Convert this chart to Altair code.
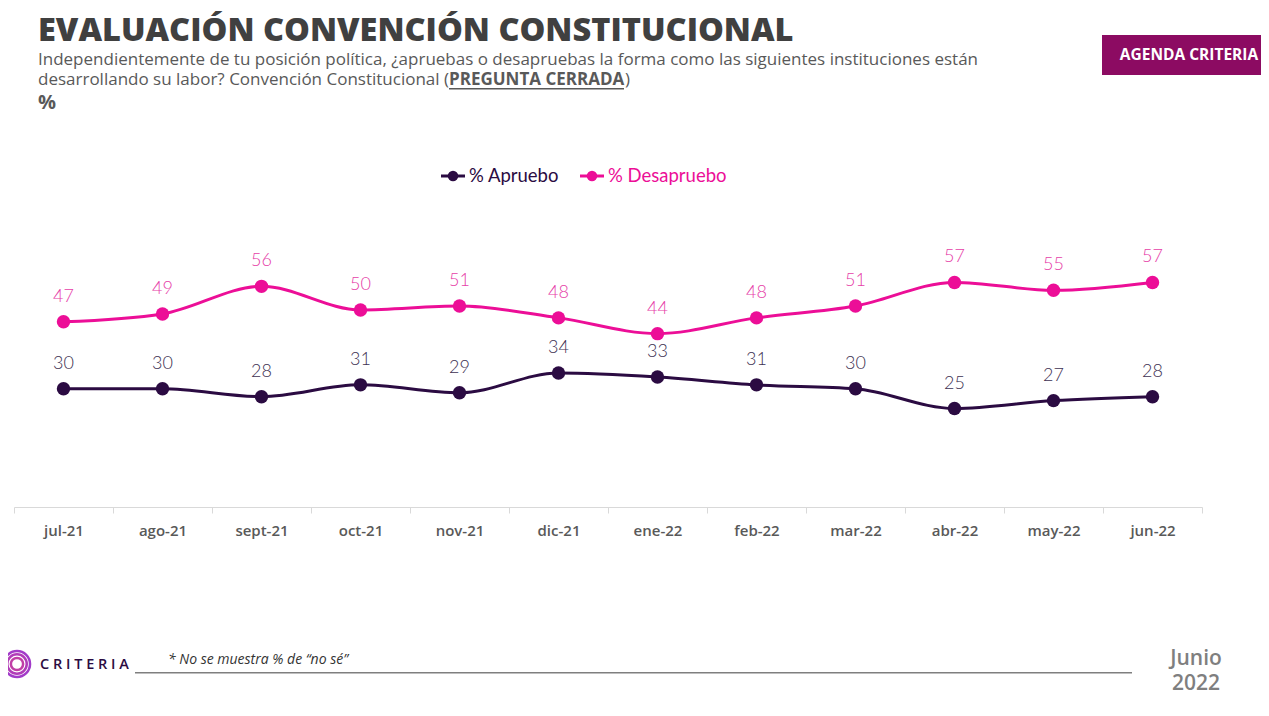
import pandas as pd
import altair as alt

months = ["jul-21", "ago-21", "sept-21", "oct-21", "nov-21", "dic-21",
          "ene-22", "feb-22", "mar-22", "abr-22", "may-22", "jun-22"]
apruebo = [30, 30, 28, 31, 29, 34, 33, 31, 30, 25, 27, 28]
desapruebo = [47, 49, 56, 50, 51, 48, 44, 48, 51, 57, 55, 57]
series = ["% Apruebo", "% Desapruebo"]
line_colors = ["#2B0B42", "#EC0E97"]
label_colors = ["#3E3152", "#E640A8"]

df = pd.concat([
    pd.DataFrame({"mes": months, "valor": apruebo, "serie": series[0]}),
    pd.DataFrame({"mes": months, "valor": desapruebo, "serie": series[1]}),
], ignore_index=True)

x = alt.X("mes:N", sort=months, title=None,
          scale=alt.Scale(paddingInner=0, paddingOuter=0),
          axis=alt.Axis(labelAngle=0, tickBand="extent", domainColor="#D9D9D9",
                        tickColor="#D9D9D9", tickSize=6, labelPadding=10,
                        labelFont="Open Sans", labelFontSize=15,
                        labelFontWeight=600, labelColor="#595959", grid=False))
y = alt.Y("valor:Q", scale=alt.Scale(domain=[0, 100]), axis=None)
color = alt.Color("serie:N", scale=alt.Scale(domain=series, range=line_colors),
                  legend=None)

base = alt.Chart(df).encode(x=x, y=y)

lines = base.mark_line(interpolate="monotone", strokeWidth=3).encode(color=color)
points = base.mark_point(filled=True, size=180, opacity=1).encode(color=color)
values = base.mark_text(font="Lato", fontSize=18, fontWeight=300, dy=-25).encode(
    text="valor:Q",
    color=alt.Color("serie:N", scale=alt.Scale(domain=series, range=label_colors),
                    legend=None))


def txt(text, px, py, **kw):
    # px, py are positions on the page; plot origin sits at (14, 113)
    return alt.Chart(pd.DataFrame({"t": [text]})).mark_text(
        baseline="middle", **kw).encode(
        x=alt.value(px - 14), y=alt.value(py - 113), text="t:N")


def box(x1, y1, x2, y2, fill):
    return alt.Chart(pd.DataFrame({"t": [0]})).mark_rect(color=fill).encode(
        x=alt.value(x1 - 14), x2=alt.value(x2 - 14),
        y=alt.value(y1 - 113), y2=alt.value(y2 - 113))


def legend_item(name, px, py, c):
    one = alt.Chart(pd.DataFrame({"t": [name]}))
    stroke = one.mark_rule(color=c, strokeWidth=3).encode(
        x=alt.value(px - 14), x2=alt.value(px + 24 - 14), y=alt.value(py - 113))
    dot = one.mark_point(filled=True, color=c, size=110, opacity=1).encode(
        x=alt.value(px + 12 - 14), y=alt.value(py - 113))
    label = one.mark_text(align="left", baseline="middle", font="Lato",
                          fontSize=18.5, color=c).encode(
        x=alt.value(px + 28 - 14), y=alt.value(py - 113), text="t:N")
    return [stroke, dot, label]


grey = "#595959"
sub = dict(align="left", font="Open Sans", fontSize=17, color=grey)
deco = [
    txt("EVALUACIÓN CONVENCIÓN CONSTITUCIONAL", 38, 31, align="left",
        font="Open Sans", fontSize=32.5, fontWeight=800, color="#404040"),
    txt("Independientemente de tu posición política, ¿apruebas o desapruebas la forma "
        "como las siguientes instituciones están", 38, 60, fontWeight=500, **sub),
    txt("desarrollando su labor? Convención Constitucional (", 38, 80,
        fontWeight=500, **sub),
    txt("PREGUNTA CERRADA", 449, 80, fontWeight=700, **sub),
    txt(")", 625, 80, fontWeight=500, **sub),
    box(449, 88, 624, 89.5, grey),
    txt("%", 38, 103, align="left", font="Open Sans", fontSize=20,
        fontWeight=700, color=grey),
    box(1102, 35, 1262, 75, "#8C0B62"),
    txt("AGENDA CRITERIA", 1189, 55, align="center", font="Open Sans",
        fontSize=15.5, fontWeight=700, color="white"),
    txt("C R I T E R I A", 40, 665, align="left", font="Open Sans",
        fontSize=14.5, fontWeight=600, color="#2B0B42"),
    txt("* No se muestra % de “no sé”", 168, 660, align="left", font="Open Sans",
        fontSize=14, fontStyle="italic", color="#333333"),
    box(135, 672, 1132, 673.5, "#7F7F7F"),
    txt("Junio", 1196, 659, align="center", font="Open Sans", fontSize=21,
        fontWeight=600, color="#7F7F7F"),
    txt("2022", 1196, 684, align="center", font="Open Sans", fontSize=21,
        fontWeight=600, color="#7F7F7F"),
]
deco += legend_item(series[0], 441, 176, line_colors[0])
deco += legend_item(series[1], 580, 176, line_colors[1])

# logo rings
rings = alt.Chart(pd.DataFrame({"s": [680, 380, 150],
                                "c": ["#A23BC9", "#B13CB8", "#C03FA6"]})).mark_point(
    shape="circle", filled=False, strokeWidth=2.5, opacity=1).encode(
    x=alt.value(17 - 14), y=alt.value(664 - 113),
    size=alt.Size("s:Q", scale=None, legend=None),
    stroke=alt.Stroke("c:N", scale=None, legend=None))

chart = alt.layer(lines, points, values, rings, *deco).resolve_scale(
    color="independent"
).properties(
    width=1188, height=394,
    padding={"left": 6, "top": 105, "right": 59, "bottom": 201},
    autosize=alt.AutoSizeParams(type="none"),
).configure_view(stroke=None)

chart.save("out.html", embed_options={"renderer": "svg", "actions": False})
